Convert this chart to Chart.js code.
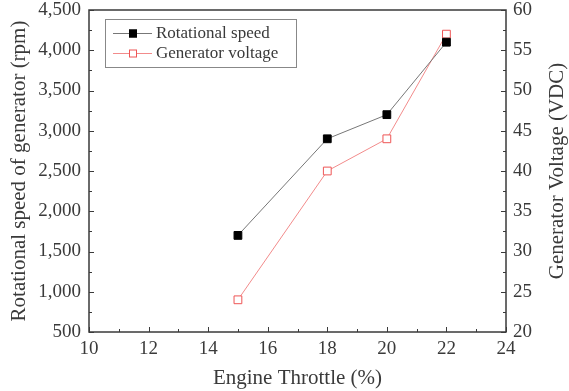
<!DOCTYPE html>
<html>
<head>
<meta charset="utf-8">
<script src="https://cdn.jsdelivr.net/npm/chart.js@4.4.1/dist/chart.umd.min.js"></script>
<style>
  html, body { margin: 0; padding: 0; background: #fff; }
  #wrap { width: 569px; height: 391px; }
</style>
</head>
<body>
<div id="wrap"><canvas id="chart"></canvas></div>
<script>
// data
const throttle = [15, 18, 20, 22];
const rotSpeed = [1700, 2900, 3200, 4100];
const genVoltage = [24, 40, 44, 57];
const seriesNames = ["Rotational speed", "Generator voltage"];

const FONT = "'Liberation Serif', 'DejaVu Serif', serif";
const INK = "#3a3a3a";

// inward ticks, frame, legend and right title
const decor = {
  id: "decor",
  afterDraw(chart) {
    const ctx = chart.ctx;
    const a = chart.chartArea;
    const sx = chart.scales.x, sy = chart.scales.y, sy1 = chart.scales.y1;
    ctx.save();
    ctx.strokeStyle = INK;
    ctx.lineWidth = 1.5;
    ctx.strokeRect(a.left, a.top, a.right - a.left, a.bottom - a.top);

    ctx.lineWidth = 1;
    ctx.beginPath();
    for (let v = 10; v <= 24; v += 1) {
      const px = Math.round(sx.getPixelForValue(v)) + 0.5;
      const len = v % 2 === 0 ? 5 : 3;
      ctx.moveTo(px, a.bottom);
      ctx.lineTo(px, a.bottom - len);
    }
    for (let v = 500; v <= 4500; v += 250) {
      const py = Math.round(sy.getPixelForValue(v)) + 0.5;
      const len = v % 500 === 0 ? 5 : 3;
      ctx.moveTo(a.left, py);
      ctx.lineTo(a.left + len, py);
    }
    for (let v = 20; v <= 60; v += 2.5) {
      const py = Math.round(sy1.getPixelForValue(v)) + 0.5;
      const len = v % 5 === 0 ? 5 : 3;
      ctx.moveTo(a.right, py);
      ctx.lineTo(a.right - len, py);
    }
    ctx.stroke();

    // legend box
    const lx = 105, ly = 19, lw = 191, lh = 48;
    ctx.strokeStyle = "#888";
    ctx.lineWidth = 1;
    ctx.strokeRect(lx + 0.5, ly + 0.5, lw, lh);
    const rows = [
      { y: 33, line: "#777", fill: "#000", stroke: "#000" },
      { y: 53, line: "#f28b8b", fill: "#fff", stroke: "#ee5555" }
    ];
    ctx.font = "17px " + FONT;
    ctx.textBaseline = "middle";
    ctx.textAlign = "left";
    rows.forEach((r, i) => {
      ctx.strokeStyle = r.line;
      ctx.beginPath();
      ctx.moveTo(113, r.y + 0.5);
      ctx.lineTo(152, r.y + 0.5);
      ctx.stroke();
      ctx.fillStyle = r.fill;
      ctx.strokeStyle = r.stroke;
      ctx.fillRect(129, r.y - 3.5, 8, 8);
      ctx.strokeRect(129.5, r.y - 3, 7, 7);
      ctx.fillStyle = INK;
      ctx.fillText(seriesNames[i], 156, r.y + 1);
    });

    // right axis title reads bottom to top
    ctx.translate(557, (a.top + a.bottom) / 2);
    ctx.rotate(-Math.PI / 2);
    ctx.textAlign = "center";
    ctx.font = "21px " + FONT;
    ctx.fillStyle = INK;
    ctx.fillText("Generator Voltage (VDC)", 0, 0);
    ctx.restore();
  }
};

// keep the plot box where the figure has it
function fixVertical(width) {
  return (s) => { s.width = width; s.paddingTop = 10; s.paddingBottom = 0; };
}

new Chart(document.getElementById("chart"), {
  type: "line",
  data: {
    datasets: [
      {
        label: seriesNames[0],
        data: throttle.map((t, i) => ({ x: t, y: rotSpeed[i] })),
        yAxisID: "y",
        borderColor: "#777",
        borderWidth: 1,
        pointStyle: "rect",
        pointRadius: 5.5,
        pointBackgroundColor: "#000",
        pointBorderColor: "#000",
        tension: 0
      },
      {
        label: seriesNames[1],
        data: throttle.map((t, i) => ({ x: t, y: genVoltage[i] })),
        yAxisID: "y1",
        borderColor: "#f28b8b",
        borderWidth: 1,
        pointStyle: "rect",
        pointRadius: 5.5,
        pointBackgroundColor: "#fff",
        pointBorderColor: "#ee5555",
        pointBorderWidth: 1,
        tension: 0
      }
    ]
  },
  options: {
    responsive: true,
    maintainAspectRatio: false,
    animation: false,
    layout: { padding: 0 },
    plugins: { legend: { display: false }, tooltip: { enabled: false } },
    scales: {
      x: {
        type: "linear",
        min: 10,
        max: 24,
        grid: { display: false, drawTicks: false },
        border: { display: false },
        ticks: { stepSize: 2, padding: 6, color: INK, font: { family: FONT, size: 19 } },
        title: { display: true, text: "Engine Throttle (%)", color: INK, font: { family: FONT, size: 21 }, padding: { top: 0, bottom: 0 } },
        afterFit(s) { s.height = 59; s.paddingLeft = 0; s.paddingRight = 0; }
      },
      y: {
        position: "left",
        min: 500,
        max: 4500,
        grid: { display: false, drawTicks: false },
        border: { display: false },
        ticks: {
          stepSize: 500, padding: 8, color: INK, font: { family: FONT, size: 19 },
          callback: (v) => v.toLocaleString("en-US")
        },
        title: { display: true, text: "Rotational speed of generator (rpm)", color: INK, font: { family: FONT, size: 21 }, padding: { top: 7, bottom: 0 } },
        afterFit: fixVertical(89)
      },
      y1: {
        position: "right",
        min: 20,
        max: 60,
        grid: { display: false, drawTicks: false },
        border: { display: false },
        ticks: { stepSize: 5, padding: 7, color: INK, font: { family: FONT, size: 19 } },
        afterFit: fixVertical(63)
      }
    }
  },
  plugins: [decor]
});
</script>
</body>
</html>
